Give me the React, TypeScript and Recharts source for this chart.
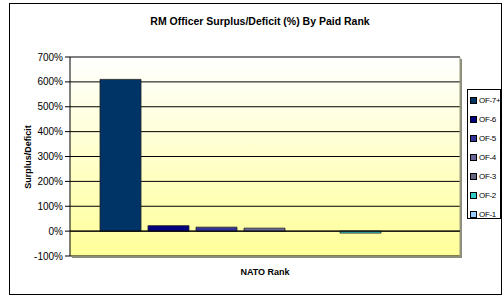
import React from 'react';
import { BarChart, Bar, XAxis, YAxis, CartesianGrid, ReferenceLine, ReferenceArea } from 'recharts';

const categories = ['NATO Rank'];
const seriesNames = ['OF-7+', 'OF-6', 'OF-5', 'OF-4', 'OF-3', 'OF-2', 'OF-1'];
const seriesValues = [610, 22, 16, 12, 0, -8, 0];
const seriesColors = ['#003366', '#000080', '#333399', '#666699', '#666680', '#33CCCC', '#99CCFF'];
const yTicks = [-100, 0, 100, 200, 300, 400, 500, 600, 700];

const chartTitle = 'RM Officer Surplus/Deficit (%) By Paid Rank';
const xTitle = 'NATO Rank';
const yTitle = 'Surplus/Deficit';

const data = categories.map((name) => {
  const row: Record<string, any> = { name };
  seriesNames.forEach((s, i) => {
    row[s] = seriesValues[i];
  });
  return row;
});

const FONT = '"Liberation Sans", Arial, sans-serif';

const PlotFrame = (props: any) => {
  const { x, y, width, height } = props;
  return (
    <g>
      <rect x={x + width} y={y + 2} width={2} height={height} fill="#8c8c7a" />
      <rect x={x + 2} y={y + height} width={width} height={2} fill="#8c8c7a" />
      <line x1={x + width} y1={y} x2={x + width} y2={y + height} stroke="#9a9a80" strokeWidth={1} />
    </g>
  );
};

export default function App() {
  return (
    <div style={{ position: 'absolute', left: 0, top: 0, width: 504, height: 299, background: '#fff', fontFamily: FONT }}>
      <div
        style={{
          position: 'absolute',
          left: 9,
          top: 3,
          width: 493,
          height: 292,
          border: '1px solid #000',
          boxSizing: 'border-box',
        }}
      />
      <div
        style={{
          position: 'absolute',
          left: 0,
          top: 15,
          width: 520,
          textAlign: 'center',
          fontWeight: 'bold',
          fontSize: 10.5,
          color: '#000',
        }}
      >
        {chartTitle}
      </div>
      <div
        style={{
          position: 'absolute',
          left: 70,
          top: 267,
          width: 390,
          textAlign: 'center',
          fontWeight: 'bold',
          fontSize: 9,
          color: '#000',
        }}
      >
        {xTitle}
      </div>
      <div
        style={{
          position: 'absolute',
          left: 28,
          top: 157,
          transform: 'translate(-50%, -50%) rotate(-90deg)',
          fontWeight: 'bold',
          fontSize: 9,
          whiteSpace: 'nowrap',
          color: '#000',
        }}
      >
        {yTitle}
      </div>
      <div style={{ position: 'absolute', left: 0, top: 0 }}>
        <BarChart
          width={504}
          height={299}
          data={data}
          margin={{ top: 57, right: 44, bottom: 43, left: 30 }}
          barCategoryGap={30}
          barGap={7}
        >
          <defs>
            <linearGradient id="plotBg" x1="0" y1="0" x2="0" y2="1">
              <stop offset="0%" stopColor="#FFFFFF" />
              <stop offset="100%" stopColor="#FFFF99" />
            </linearGradient>
          </defs>
          <CartesianGrid vertical={false} stroke="#000" fill="url(#plotBg)" fillOpacity={1} />
          <ReferenceArea y1={-100} y2={700} ifOverflow="visible" shape={<PlotFrame />} />
          <XAxis dataKey="name" hide />
          <YAxis
            width={40}
            domain={[-100, 700]}
            ticks={yTicks}
            interval={0}
            tickFormatter={(v: number) => `${v}%`}
            tick={{ fontSize: 10, fill: '#000', fontFamily: FONT }}
            tickSize={5}
            axisLine={{ stroke: '#000' }}
            tickLine={{ stroke: '#000' }}
          />
          <ReferenceLine y={0} stroke="#000" />
          {seriesNames.map((s, i) => (
            <Bar key={s} dataKey={s} fill={seriesColors[i]} stroke="#222" strokeWidth={0.8} isAnimationActive={false} />
          ))}
        </BarChart>
      </div>
      <div
        style={{
          position: 'absolute',
          left: 467,
          top: 89,
          width: 34,
          height: 130,
          border: '1px solid #000',
          boxSizing: 'border-box',
          background: '#fff',
        }}
      >
        {seriesNames.map((s, i) => (
          <div
            key={s}
            style={{
              position: 'absolute',
              left: 2,
              top: 4 + i * 19,
              height: 12,
              display: 'flex',
              alignItems: 'center',
              fontSize: 8,
              letterSpacing: -0.3,
              whiteSpace: 'nowrap',
              color: '#000',
            }}
          >
            <span
              style={{
                display: 'inline-block',
                width: 5,
                height: 5,
                background: seriesColors[i],
                border: '1px solid #000',
                marginRight: 2,
              }}
            />
            {s}
          </div>
        ))}
      </div>
    </div>
  );
}
